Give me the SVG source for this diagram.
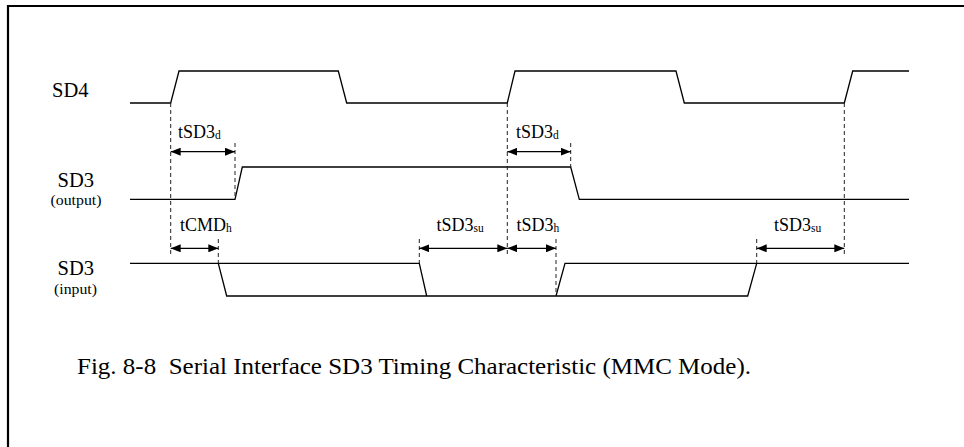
<svg xmlns="http://www.w3.org/2000/svg" width="964" height="447" viewBox="0 0 964 447">
  <defs>
    <style>
      .sig { fill: none; stroke: #000; stroke-width: 1.3; }
      .dash { fill: none; stroke: #222; stroke-width: 1; stroke-dasharray: 4 3; }
      .arr { fill: none; stroke: #000; stroke-width: 1.3; marker-start: url(#ah); marker-end: url(#ah); }
      text { font-family: 'Liberation Serif', Tinos, 'Times New Roman', Times, serif; fill: #000; }
      .name { font-size: 20.5px; }
      .sub { font-size: 14px; }
      .tm { font-size: 18px; }
      .ts { font-size: 11.5px; }
    </style>
    <marker id="ah" viewBox="0 0 10 8" refX="10" refY="4" markerWidth="10" markerHeight="8" markerUnits="userSpaceOnUse" orient="auto-start-reverse">
      <path d="M0,0 L10,4 L0,8 z" fill="#000"/>
    </marker>
  </defs>
  <rect width="964" height="447" fill="#fff"/>
  <polyline points="8,447 8,6 964,6" fill="none" stroke="#000" stroke-width="2.2"/>

  <g id="sd4">
    <text class="name" x="52" y="97">SD4</text>
    <polyline class="sig" points="130,103 170.7,103 179,71 338.3,71 346.7,103 507.3,103 515,71 676,71 684.3,103 844.3,103 852.7,71 909,71"/>
  </g>

  <g id="sd3-output">
    <text class="name" x="57.5" y="186.5">SD3</text>
    <text class="sub" x="50.5" y="205" textLength="51" lengthAdjust="spacingAndGlyphs">(output)</text>
    <polyline class="sig" points="130,199.3 235,199.3 242.3,167 570.7,167 579.3,199.3 909,199.3"/>
  </g>

  <g id="sd3-input">
    <text class="name" x="57.5" y="275">SD3</text>
    <text class="sub" x="54" y="293.5" textLength="43" lengthAdjust="spacingAndGlyphs">(input)</text>
    <polyline class="sig" points="130,263.3 419.3,263.3 426.7,296"/>
    <polyline class="sig" points="218.3,263.3 226.7,296 747.7,296 756.7,263.3"/>
    <polyline class="sig" points="556,296 565,263.3 909,263.3"/>
  </g>

  <g id="connectors">
    <line class="dash" x1="170.7" y1="103" x2="170.7" y2="254"/>
    <line class="dash" x1="235" y1="143" x2="235" y2="199"/>
    <line class="dash" x1="507.3" y1="103" x2="507.3" y2="254"/>
    <line class="dash" x1="570.7" y1="143" x2="570.7" y2="167"/>
    <line class="dash" x1="844.3" y1="103" x2="844.3" y2="254"/>
    <line class="dash" x1="218.3" y1="239" x2="218.3" y2="263"/>
    <line class="dash" x1="419.3" y1="239" x2="419.3" y2="263"/>
    <line class="dash" x1="556" y1="239" x2="556" y2="296"/>
    <line class="dash" x1="756.7" y1="239" x2="756.7" y2="263"/>

    <line class="arr" x1="170.7" y1="151.7" x2="235" y2="151.7"/>
    <line class="arr" x1="507.3" y1="151.7" x2="570.7" y2="151.7"/>
    <line class="arr" x1="170.7" y1="248.3" x2="218.3" y2="248.3"/>
    <line class="arr" x1="419.3" y1="248.3" x2="507.3" y2="248.3"/>
    <line class="arr" x1="507.3" y1="248.3" x2="556" y2="248.3"/>
    <line class="arr" x1="756.7" y1="248.3" x2="844.3" y2="248.3"/>
  </g>

  <g id="timing-labels">
    <text id="lbl-tsd3d-1" class="tm" x="178" y="138">tSD3<tspan class="ts" dy="1">d</tspan></text>
    <text id="lbl-tsd3d-2" class="tm" x="516" y="138">tSD3<tspan class="ts" dy="1">d</tspan></text>
    <text id="lbl-tcmdh" class="tm" x="180" y="231">tCMD<tspan class="ts" dy="1">h</tspan></text>
    <text id="lbl-tsd3su-1" class="tm" x="436.5" y="231">tSD3<tspan class="ts" dy="1">su</tspan></text>
    <text id="lbl-tsd3h" class="tm" x="516.5" y="231">tSD3<tspan class="ts" dy="1">h</tspan></text>
    <text id="lbl-tsd3su-2" class="tm" x="774" y="231">tSD3<tspan class="ts" dy="1">su</tspan></text>
  </g>

  <text id="caption" x="77" y="374" font-size="23" textLength="674" lengthAdjust="spacingAndGlyphs" xml:space="preserve">Fig. 8-8  Serial Interface SD3 Timing Characteristic (MMC Mode).</text>
</svg>
